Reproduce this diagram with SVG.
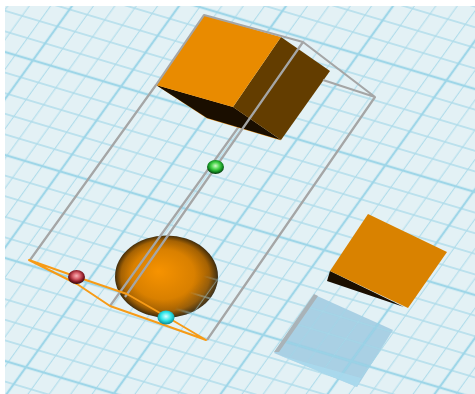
<svg xmlns="http://www.w3.org/2000/svg" width="475" height="394" viewBox="0 0 475 394">
<style>
.wire{fill:none;stroke:#a5a6a6;stroke-width:2.2;stroke-linejoin:round}
.outline{fill:none;stroke:#f79b16;stroke-width:2;stroke-linejoin:round}
</style>
<defs>
<pattern id="grid" width="100" height="100" patternUnits="userSpaceOnUse" patternTransform="matrix(.881 .2625 -.6106 .848 32.9 60.3)">
<path d="M20 0V100M40 0V100M60 0V100M80 0V100M0 20H100M0 40H100M0 60H100M0 80H100" stroke="#aedcea" stroke-width="1.2" fill="none"/>
<path d="M0 0V100M100 0V100M0 0H100M0 100H100" stroke="#9ed6e8" stroke-width="2.6" fill="none"/>
</pattern>
<radialGradient id="sphere" gradientUnits="userSpaceOnUse" cx="166.500" cy="276.500" r="52" fx="158" fy="270" gradientTransform="translate(166.500 276.500) scale(1 .8) translate(-166.500 -276.500)">
<stop offset="0" stop-color="#f79300"/>
<stop offset=".6" stop-color="#d98000"/>
<stop offset=".85" stop-color="#a56203"/>
<stop offset=".97" stop-color="#4f3308"/>
<stop offset="1" stop-color="#2a2418"/>
</radialGradient>
<linearGradient id="fade" gradientUnits="userSpaceOnUse" x1="195" y1="285" x2="218" y2="305">
<stop offset="0" stop-color="#000"/><stop offset="1" stop-color="#fff"/>
</linearGradient>
<mask id="fadeMask" maskUnits="userSpaceOnUse" x="100" y="220" width="130" height="110"><rect x="100" y="220" width="130" height="110" fill="url(#fade)"/></mask>
<radialGradient id="red" cx=".5" cy=".42" r=".55"><stop offset="0" stop-color="#f7b5b8"/><stop offset=".4" stop-color="#d9606a"/><stop offset=".75" stop-color="#8a1c26"/><stop offset="1" stop-color="#3a0b10"/></radialGradient>
<radialGradient id="green" cx=".5" cy=".42" r=".55"><stop offset="0" stop-color="#d2fbca"/><stop offset=".45" stop-color="#48d44a"/><stop offset=".78" stop-color="#128a20"/><stop offset="1" stop-color="#0a4212"/></radialGradient>
<radialGradient id="cyan" cx=".5" cy=".42" r=".55"><stop offset="0" stop-color="#d8ffff"/><stop offset=".55" stop-color="#2fe6ea"/><stop offset="1" stop-color="#0b8f98"/></radialGradient>
</defs>
<rect width="475" height="394" fill="#fff"/>
<g id="ground">
<rect x="5" y="6" width="470" height="388" fill="#e3f1f5"/>
<rect x="5" y="6" width="470" height="388" fill="url(#grid)"/>
</g>
<g id="shadow">
<polygon points="315,295 393,330 357,387 274,353" fill="#86bbda" opacity=".62"/>
<polygon points="315,295 393,330 357,387 274,353" fill="url(#grid)" opacity=".75"/>
<polygon points="314,294 274,352 279,352 318,296" fill="#a9b3b8"/>
<polygon points="274,353 357,387 361,378 279,355" fill="#aadcf0" opacity=".7"/>
</g>
<g id="sphere-node">
<ellipse cx="166.500" cy="276.500" rx="51.500" ry="41" fill="url(#sphere)"/>
<ellipse cx="166.500" cy="276.500" rx="51.500" ry="41" fill="#4a4a3c" opacity=".5" mask="url(#fadeMask)"/>
<ellipse cx="166.500" cy="276.500" rx="51.500" ry="41" fill="url(#grid)" mask="url(#fadeMask)"/>
</g>
<g id="connectors">
<path class="wire" d="M240 125 110 306"/>
</g>
<g id="box-top">
<polygon points="156,85 207,118.500 281,140.500 233,107" fill="#f0a030"/>
<polygon points="156,85 233,107 281,140 207,118" fill="#1a0e00"/>
<polygon points="281,37 330,71 281,140 233,107" fill="#633d00"/>
<polygon points="204,15 281,37 233,107 156,85" fill="#e98b00"/>
</g>
<g id="box-right">
<polygon points="330,271 327,281 404,307" fill="#1a0e00"/>
<polygon points="368,214 447,252 408,308 330,271" fill="#d98200"/>
</g>
<g id="wireframe">
<path class="wire" d="M156 85 30 260M156 85 204 15 303 42 375 97 207 340M303 42 125 297M323 80 375 97"/>
</g>
<g id="outline">
<path class="outline" d="M29 260 77 277 127 294 167 317 206 340 167 326 110 306 77 284Z"/>
</g>
<g id="handle-red"><ellipse cx="76.500" cy="277" rx="8.500" ry="7" fill="url(#red)"/></g>
<g id="handle-green"><ellipse cx="215.500" cy="167" rx="8.500" ry="7" fill="url(#green)"/></g>
<g id="handle-cyan"><ellipse cx="166" cy="317.500" rx="8.500" ry="7" fill="url(#cyan)"/></g>
</svg>
